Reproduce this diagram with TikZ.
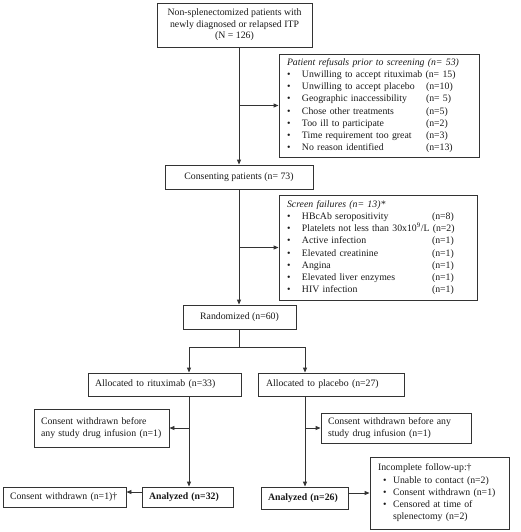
\documentclass[tikz,border=0pt]{standalone}
\usepackage{fontspec}
\setmainfont{Liberation Serif}
\usetikzlibrary{arrows.meta}
\newcommand{\bul}{\makebox[15pt][l]{\textbullet}}
\newcommand{\itm}[3]{\mbox{\bul\makebox[#1][l]{#2}#3}}
\newcommand{\ibul}{\hspace*{5pt}\makebox[10pt][l]{\textbullet}}
\newcommand{\oneline}[1]{\mbox{#1}}
\begin{document}
\begin{tikzpicture}[x=1pt,y=-1pt,
  font=\fontsize{9.8}{12.2}\selectfont,
  box/.style={draw=black!80, line width=0.9pt, inner ysep=0pt, align=left, text=black!90},
  cbox/.style={box, align=center, inner sep=0pt},
  line/.style={draw=black!80, line width=0.9pt},
  arr/.style={line, -{Triangle[length=5pt,width=4pt]}}]
\useasboundingbox (0,0) rectangle (520,532);

\node[cbox, font=\fontsize{9.8}{11.5}\selectfont, minimum width=155pt, minimum height=44pt] (top) at (234.5,25)
  {Non-splenectomized patients with\\newly diagnosed or relapsed ITP\\(N = 126)};

\node[box, text width=184pt, inner xsep=8pt, minimum height=103pt] (refusals) at (379,105.5)
  {\oneline{\textit{Patient refusals prior to screening (n= 53)}}\\
   \oneline{\bul Unwilling to accept rituximab\ (n= 15)}\\
   \itm{124pt}{Unwilling to accept placebo}{(n=10)}\\
   \itm{124pt}{Geographic inaccessibility}{(n= 5)}\\
   \itm{124pt}{Chose other treatments}{(n=5)}\\
   \itm{124pt}{Too ill to participate}{(n=2)}\\
   \itm{124pt}{Time requirement too great}{(n=3)}\\
   \itm{124pt}{No reason identified}{(n=13)}};

\node[cbox, minimum width=148pt, minimum height=24pt] (cons) at (239,177) {Consenting patients (n= 73)};

\node[box, text width=182pt, inner xsep=8pt, minimum height=105pt] (screen) at (378,247.5)
  {\oneline{\textit{Screen failures (n= 13)*}}\\
   \itm{130pt}{HBcAb seropositivity}{(n=8)}\\
   \oneline{\bul Platelets not less than 30x10\textsuperscript{9}/L\ (n=2)}\\
   \itm{130pt}{Active infection}{(n=1)}\\
   \itm{130pt}{Elevated creatinine}{(n=1)}\\
   \itm{130pt}{Angina}{(n=1)}\\
   \itm{130pt}{Elevated liver enzymes}{(n=1)}\\
   \itm{130pt}{HIV infection}{(n=1)}};

\node[cbox, minimum width=113pt, minimum height=24pt] (rand) at (239.5,317) {Randomized (n=60)};

\node[box, text width=139pt, inner xsep=7pt, minimum height=23pt] (allocR) at (164.5,384.5) {\oneline{Allocated to rituximab (n=33)}};
\node[box, text width=130pt, inner xsep=8pt, minimum height=23pt] (allocP) at (331,384.5) {\oneline{Allocated to placebo (n=27)}};

\node[box, text width=121pt, inner xsep=7pt, minimum height=38pt] (consL) at (101.5,428)
  {\oneline{Consent withdrawn before}\\\oneline{any study drug infusion (n=1)}};
\node[box, text width=136pt, inner xsep=7pt, minimum height=30pt] (consR) at (396,428)
  {\oneline{Consent withdrawn before any}\\\oneline{study drug infusion (n=1)}};

\node[box, text width=109pt, inner xsep=7pt, minimum height=20pt] (wd) at (64.5,497) {\oneline{Consent withdrawn (n=1)\textdagger}};
\node[box, text width=77pt, inner xsep=7pt, minimum height=20pt] (a32) at (187.5,497) {\oneline{\textbf{Analyzed (n=32)}}};
\node[box, text width=73pt, inner xsep=7pt, minimum height=22pt] (a26) at (304.5,498) {\oneline{\textbf{Analyzed (n=26)}}};

\node[box, text width=123pt, inner xsep=8pt, minimum height=72pt] (inc) at (439.5,493)
  {\oneline{Incomplete follow-up:\textdagger}\\
   \oneline{\ibul Unable to contact (n=2)}\\
   \oneline{\ibul Consent withdrawn (n=1)}\\
   \oneline{\ibul Censored at time of}\\
   \oneline{\hspace*{15pt}splenectomy (n=2)}};

% connectors
\draw[arr] (top.south -| cons.north) -- (cons.north);
\draw[arr] (refusals.west -| cons.north) -- (refusals.west);
\draw[arr] (cons.south) -- (cons.south |- rand.north);
\draw[arr] (screen.west -| cons.south) -- (screen.west);

\coordinate (bl) at (189,347);
\coordinate (br) at (305,347);
\draw[line] (rand.south) -- (rand.south |- bl);
\draw[line] (bl) -- (br);
\draw[arr] (bl) -- (bl |- allocR.north);
\draw[arr] (br) -- (br |- allocP.north);
\draw[arr] (bl |- allocR.south) -- (bl |- a32.north);
\draw[arr] (bl |- consL.east) -- (consL.east);
\draw[arr] (br |- allocP.south) -- (br |- a26.north);
\draw[arr] (br |- consR.west) -- (consR.west);
\coordinate (w1) at ([yshift=5pt]a32.west);
\draw[arr] (w1) -- (w1 -| wd.east);
\draw[arr] (a26.east |- inc.west) -- (inc.west);
\end{tikzpicture}
\end{document}
